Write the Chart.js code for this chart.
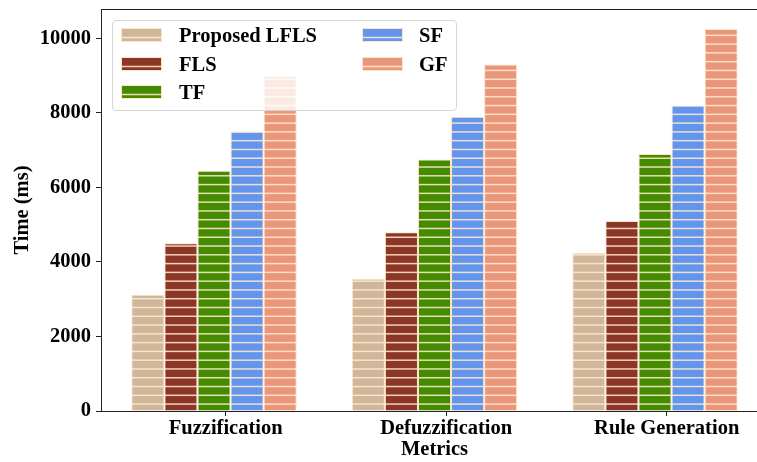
<!DOCTYPE html>
<html>
<head>
<meta charset="utf-8">
<script src="https://cdn.jsdelivr.net/npm/chart.js@4.4.0/dist/chart.umd.min.js"></script>
<style>
  html, body { margin: 0; padding: 0; overflow: hidden; background: #fff; width: 757px; height: 462px; }
  #wrap { position: relative; width: 790px; height: 462px; }
  #c { position: absolute; left: 0; top: 0; }
  #legend {
    position: absolute; left: 112px; top: 20px; width: 343px; height: 89px;
    border: 1px solid #d6d6d6; border-radius: 4px; background: rgba(255,255,255,0.8);
    font: bold 20.5px "Liberation Serif", "Times New Roman", serif; color: #000;
  }
  .sw { position: absolute; }
  .lab { position: absolute; line-height: 20px; white-space: nowrap; }
</style>
</head>
<body>
<div id="wrap">
  <canvas id="c" width="790" height="462"></canvas>
  <div id="legend"></div>
</div>
<script>
// Processing time per stage (ms)
const categories = ['Fuzzification', 'Defuzzification', 'Rule Generation'];
const methods = ['Proposed LFLS', 'FLS', 'TF', 'SF', 'GF'];
const proposedLFLS = [3120, 3550, 4250];
const fls = [4500, 4800, 5100];
const tf = [6450, 6750, 6900];
const sf = [7500, 7900, 8200];
const gf = [9000, 9300, 10250];
const yTicks = [0, 2000, 4000, 6000, 8000, 10000];

const seriesValues = [proposedLFLS, fls, tf, sf, gf];
const fillColors = ['#D0B69A', '#8B3626', '#458B00', '#6495ED', '#E9967A'];
const EDGE = '#FFE4C4';
const HATCH_LINE = 'rgba(255,234,208,0.88)';
const HATCH_STEP = 8.78;
const AXIS = '#222';
const FONT = { family: '"Liberation Serif", "Times New Roman", serif', weight: 'bold', size: 20.5 };
const TICK_SHIFT = 0.053;

// horizontal-line hatch drawn over a solid fill
function hatchCanvas(fill, w, h, phase) {
  const cv = document.createElement('canvas');
  cv.width = w; cv.height = h;
  const g = cv.getContext('2d');
  g.fillStyle = fill; g.fillRect(0, 0, w, h);
  g.strokeStyle = HATCH_LINE; g.lineWidth = 1.5;
  for (let y = phase; y < h + HATCH_STEP; y += HATCH_STEP) {
    g.beginPath(); g.moveTo(0, y); g.lineTo(w, y); g.stroke();
  }
  return cv;
}

const canvas = document.getElementById('c');
const ctx = canvas.getContext('2d');
const patterns = fillColors.map(col => ctx.createPattern(hatchCanvas(col, 8, 439, 0.2), 'repeat'));

const datasets = methods.map((name, k) => ({
  label: name,
  data: categories.map((c, i) => ({ x: i, y: seriesValues[k][i] })),
  backgroundColor: patterns[k],
  borderColor: EDGE,
  borderWidth: 1,
  categoryPercentage: 0.75,
  barPercentage: 1.0
}));

const X_MIN = -0.5125, X_MAX = 2.5125;

function noPad(s) { s.paddingTop = 0; s.paddingBottom = 0; s.paddingLeft = 0; s.paddingRight = 0; }

new Chart(ctx, {
  type: 'bar',
  data: { datasets },
  options: {
    responsive: false,
    animation: false,
    devicePixelRatio: 1,
    layout: { padding: { top: 9, right: 22, left: 0, bottom: 0 } },
    plugins: { legend: { display: false }, tooltip: { enabled: false } },
    scales: {
      x: {
        type: 'linear', position: 'bottom', min: X_MIN, max: X_MAX, offset: false, bounds: 'data',
        afterBuildTicks: s => { s.ticks = categories.map((c, i) => ({ value: i + TICK_SHIFT })); },
        afterFit: s => { s.height = 51; noPad(s); },
        ticks: { callback: (v, i) => categories[i], color: '#000', font: FONT, padding: 0, autoSkip: false, maxRotation: 0 },
        grid: { display: true, offset: false, drawOnChartArea: false, drawTicks: true, tickLength: 5, tickColor: AXIS, tickWidth: 1 },
        border: { display: true, color: AXIS, width: 1 },
        title: { display: true, text: 'Metrics', color: '#000', font: FONT, padding: { top: 0, bottom: 0 } }
      },
      xTop: {
        type: 'linear', position: 'top', min: X_MIN, max: X_MAX, offset: false, bounds: 'data',
        afterFit: s => { s.height = 0; noPad(s); },
        ticks: { display: false },
        grid: { display: false },
        border: { display: true, color: AXIS, width: 1 }
      },
      y: {
        type: 'linear', position: 'left', min: 0, max: 10790, bounds: 'data',
        afterBuildTicks: s => { s.ticks = yTicks.map(v => ({ value: v })); },
        afterFit: s => { s.width = 101; noPad(s); },
        ticks: { callback: v => String(v), color: '#000', font: FONT, padding: 5 },
        grid: { display: true, drawOnChartArea: false, drawTicks: true, tickLength: 5, tickColor: AXIS, tickWidth: 1 },
        border: { display: true, color: AXIS, width: 1 },
        title: { display: true, text: 'Time (ms)', color: '#000', font: FONT, padding: { top: 10, bottom: 0 } }
      }
    }
  }
});

// legend: two columns, three rows
const legend = document.getElementById('legend');
const BOX_X = 113, BOX_Y = 21;
methods.forEach((name, k) => {
  const col = k < 3 ? 0 : 1, row = k % 3;
  const swX = [121, 362][col], txtX = [179, 419][col];
  const swY = 28 + row * 28.6;
  const sw = hatchCanvas(fillColors[k], 41, 14, 9.5);
  const g = sw.getContext('2d');
  g.strokeStyle = EDGE; g.lineWidth = 1; g.strokeRect(0.5, 0.5, 40, 13);
  sw.className = 'sw';
  sw.style.left = (swX - BOX_X) + 'px';
  sw.style.top = (swY - BOX_Y) + 'px';
  legend.appendChild(sw);
  const lab = document.createElement('div');
  lab.className = 'lab';
  lab.textContent = name;
  lab.style.left = (txtX - BOX_X) + 'px';
  lab.style.top = (swY + 14 - 16.9 - BOX_Y) + 'px';
  legend.appendChild(lab);
});
</script>
</body>
</html>
